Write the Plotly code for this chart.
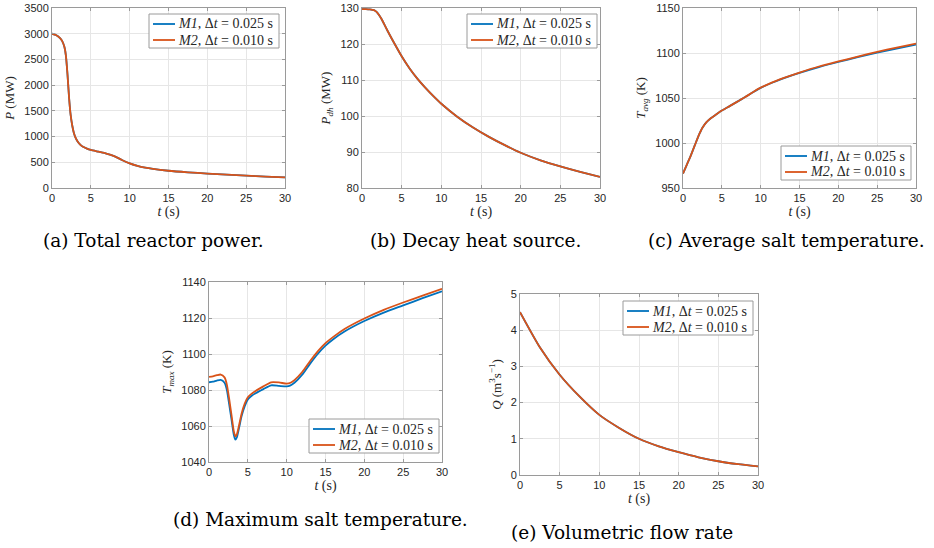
import plotly.graph_objects as go

# ---------------- data ----------------
labels = ["<i>M1</i>, Δ<i>t</i> = 0.025 s", "<i>M2</i>, Δ<i>t</i> = 0.010 s"]

tA = [0, 0.5, 1, 1.3, 1.6, 1.8, 2.0, 2.2, 2.4, 2.6, 2.8, 3.0, 3.3, 3.6, 4, 4.5, 5, 6, 7, 8, 9, 10, 11, 12, 13, 15, 17.5, 20, 22.5, 25, 27.5, 30]
PA_M1 = [3000, 2975, 2920, 2860, 2740, 2560, 2200, 1750, 1420, 1220, 1080, 990, 905, 850, 800, 765, 740, 705, 670, 620, 545, 480, 430, 395, 370, 335, 305, 280, 260, 240, 222, 205]
PA_M2 = [3000, 2975, 2920, 2860, 2740, 2560, 2200, 1750, 1420, 1220, 1080, 990, 905, 850, 800, 765, 740, 705, 670, 620, 545, 480, 430, 395, 370, 335, 305, 280, 260, 240, 222, 205]

tB = [0, 0.5, 1, 1.5, 1.8, 2.1, 2.5, 3, 3.5, 4, 5, 6, 7, 8, 9, 10, 12, 14, 16, 18, 20, 22.5, 25, 27.5, 30]
PB_M1 = [129.7, 129.7, 129.6, 129.4, 129.0, 128.2, 126.8, 124.6, 122.5, 120.5, 116.6, 113.2, 110.3, 107.8, 105.5, 103.4, 99.8, 96.8, 94.2, 91.9, 89.8, 87.7, 86.0, 84.5, 83.1]
PB_M2 = [129.7, 129.7, 129.6, 129.4, 129.0, 128.2, 126.8, 124.6, 122.5, 120.5, 116.6, 113.2, 110.3, 107.8, 105.5, 103.4, 99.8, 96.8, 94.2, 91.9, 89.8, 87.7, 86.0, 84.5, 83.1]

tC = [0, 0.5, 1, 1.5, 2, 2.5, 3, 3.5, 4, 5, 6, 7, 8, 9, 10, 11, 12, 13, 15, 17.5, 20, 22.5, 25, 27.5, 30]
TC_M1 = [966, 976, 986, 997, 1008, 1017, 1023, 1027, 1030, 1036, 1041, 1046, 1051, 1056.3, 1061.3, 1065.3, 1068.8, 1072, 1077.8, 1084.3, 1090, 1095.3, 1100.3, 1105, 1109.3]
TC_M2 = [966, 976, 986, 997, 1008, 1017, 1023, 1027, 1030, 1036, 1041, 1046, 1051, 1056.5, 1061.5, 1065.5, 1069, 1072.3, 1078.3, 1085, 1090.6, 1096, 1101.2, 1106, 1110.5]

tD = [0, 0.5, 1, 1.5, 2, 2.3, 2.6, 2.9, 3.2, 3.4, 3.6, 3.9, 4.2, 4.6, 5, 5.5, 6, 7, 8, 9, 10, 10.5, 11, 12, 13, 14, 15, 16, 17.5, 20, 22.5, 25, 27.5, 30]
TD_M1 = [1084.3, 1084.6, 1085.2, 1085.6, 1084, 1080, 1072, 1063.5, 1055, 1052.4, 1053.8, 1059.5, 1065.5, 1071, 1074.8, 1076.8, 1078.2, 1080.5, 1082.6, 1082.3, 1082, 1082.6, 1084, 1088.5, 1094.5, 1100, 1104.6, 1108.2, 1112.6, 1118.3, 1123, 1127, 1131, 1134.8]
TD_M2 = [1087.3, 1087.6, 1088.2, 1088.6, 1087, 1083, 1075, 1066, 1057, 1054.2, 1055.5, 1061, 1067, 1072.5, 1076, 1078, 1079.5, 1082, 1084.3, 1084.2, 1083.5, 1084, 1085.5, 1090, 1096, 1101.5, 1106, 1109.5, 1114, 1119.7, 1124.5, 1128.6, 1132.4, 1136.2]

tE = [0, 2.5, 5, 7.5, 10, 12.5, 15, 17.5, 20, 22.5, 25, 27.5, 30]
QE_M1 = [4.5, 3.53, 2.77, 2.17, 1.66, 1.3, 1.0, 0.79, 0.63, 0.49, 0.38, 0.3, 0.24]
QE_M2 = [4.5, 3.53, 2.77, 2.17, 1.66, 1.3, 1.0, 0.79, 0.63, 0.49, 0.38, 0.3, 0.24]

captions = ["(a) Total reactor power.", "(b) Decay heat source.", "(c) Average salt temperature.",
            "(d) Maximum salt temperature.", "(e) Volumetric flow rate"]

# ---------------- layout geometry ----------------
# body margin is removed by post_script, so the figure fills the window from (0, 0)
W, H = 934, 548

def PX(x):
    return x / W
def PY(y):
    return 1 - y / H
def px_x(a, b):
    return [PX(a), PX(b)]
def px_y(top, bottom):
    return [PY(bottom), PY(top)]

panels = [
    dict(t=tA, y1=PA_M1, y2=PA_M2, xd=px_x(52, 285), yd=px_y(8, 188), yr=[0, 3500], dy=500,
         ytitle="<i>P</i> (MW)", leg=(149, 14)),
    dict(t=tB, y1=PB_M1, y2=PB_M2, xd=px_x(362, 600), yd=px_y(8, 188), yr=[80, 130], dy=10,
         ytitle="<i>P</i><sub><i>dh</i></sub> (MW)", leg=(467, 14)),
    dict(t=tC, y1=TC_M1, y2=TC_M2, xd=px_x(683, 916), yd=px_y(8, 188), yr=[950, 1150], dy=50,
         ytitle="<i>T</i><sub><i>avg</i></sub> (K)", leg=(781, 146)),
    dict(t=tD, y1=TD_M1, y2=TD_M2, xd=px_x(209, 442), yd=px_y(282, 462), yr=[1040, 1140], dy=20,
         ytitle="<i>T</i><sub><i>max</i></sub> (K)", leg=(309, 419)),
    dict(t=tE, y1=QE_M1, y2=QE_M2, xd=px_x(520, 758), yd=px_y(294, 475), yr=[0, 5], dy=1,
         ytitle="<i>Q</i> (m<sup>3</sup>s<sup>−1</sup>)", leg=(623, 301)),
]
cap_pos = [(153, 240), (476, 240), (786, 240), (320, 519), (622, 532)]
LEG_W, LEG_H = 130, 34

BLUE = "#0072BD"
ORANGE = "#D95319"
AXC = "#9a9a9a"
TXT = "#262626"

fig = go.Figure()
layout = dict(width=W, height=H, margin=dict(l=0, r=0, t=0, b=0),
              paper_bgcolor="white", plot_bgcolor="white", showlegend=False,
              annotations=[], shapes=[])

for i, p in enumerate(panels):
    k = "" if i == 0 else str(i + 1)
    for yv, col, lab in [(p["y1"], BLUE, labels[0]), (p["y2"], ORANGE, labels[1])]:
        fig.add_trace(go.Scatter(x=p["t"], y=yv, mode="lines", name=lab, showlegend=False,
                                 line=dict(color=col, width=1.8, shape="spline", smoothing=0.6),
                                 xaxis="x" + k, yaxis="y" + k))
    axcommon = dict(showline=True, linecolor=AXC, linewidth=1, mirror="ticks",
                    ticks="inside", ticklen=3, tickcolor=AXC, showgrid=True,
                    gridcolor="#e6e6e6", gridwidth=1, zeroline=False, automargin=False,
                    ticklabeloverflow="allow",
                    tickfont=dict(family="Liberation Sans, Arial", size=11, color=TXT))
    layout["xaxis" + k] = dict(axcommon, domain=p["xd"], range=[0, 30], dtick=5,
                               anchor="y" + k,
                               title=dict(text="<i>t</i> (s)", standoff=2,
                                          font=dict(family="Liberation Serif", size=14, color=TXT)))
    layout["yaxis" + k] = dict(axcommon, domain=p["yd"], range=p["yr"], dtick=p["dy"],
                               anchor="x" + k,
                               title=dict(text=p["ytitle"], standoff=6,
                                          font=dict(family="Liberation Serif", size=13, color=TXT)))
    # legend box (drawn in paper coordinates)
    lx, ly = p["leg"]
    layout["shapes"].append(dict(type="rect", xref="paper", yref="paper",
                                 x0=PX(lx), x1=PX(lx + LEG_W), y0=PY(ly + LEG_H), y1=PY(ly),
                                 line=dict(color=AXC, width=1), fillcolor="white", layer="above"))
    for j, (col, lab) in enumerate([(BLUE, labels[0]), (ORANGE, labels[1])]):
        ry = ly + 10 + 16 * j
        layout["shapes"].append(dict(type="line", xref="paper", yref="paper",
                                     x0=PX(lx + 4), x1=PX(lx + 26), y0=PY(ry), y1=PY(ry),
                                     line=dict(color=col, width=1.8), layer="above"))
        layout["annotations"].append(dict(text=lab, x=PX(lx + 27), y=PY(ry), xref="paper",
                                          yref="paper", showarrow=False, xanchor="left",
                                          yanchor="middle",
                                          font=dict(family="Liberation Serif", size=14, color=TXT)))
    cx, cy = cap_pos[i]
    layout["annotations"].append(dict(text=captions[i], x=PX(cx), y=PY(cy), xref="paper",
                                      yref="paper", showarrow=False, xanchor="center",
                                      yanchor="middle",
                                      font=dict(family="DejaVu Serif", size=18.5, color="black")))

fig.update_layout(**layout)
fig.write_html("out.html", config={"displayModeBar": False, "staticPlot": True},
               post_script="document.body.style.margin='0';document.body.style.overflow='hidden';")
